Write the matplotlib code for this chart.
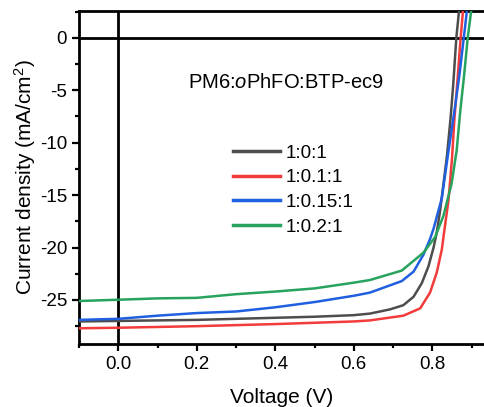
import matplotlib
matplotlib.use("Agg")
import matplotlib.pyplot as plt
from matplotlib.ticker import MultipleLocator, FuncFormatter

plt.rcParams['font.family'] = ['Liberation Sans', 'DejaVu Sans']
plt.rcParams['mathtext.fontset'] = 'custom'
plt.rcParams['mathtext.rm'] = 'Liberation Sans'
plt.rcParams['mathtext.it'] = 'Liberation Sans:italic'

labels = ["1:0:1", "1:0.1:1", "1:0.15:1", "1:0.2:1"]
colors = ["#4d4d4d", "#f23b3b", "#1f5fe0", "#27a35e"]

v_black = [-0.1, 0.0, 0.1, 0.2, 0.3, 0.4, 0.5, 0.6, 0.641, 0.692, 0.726, 0.752, 0.773, 0.790, 0.803, 0.811, 0.820, 0.837, 0.846, 0.853, 0.861, 0.868]
j_black = [-27.05, -27.0, -26.95, -26.9, -26.8, -26.7, -26.6, -26.45, -26.3, -25.9, -25.5, -24.7, -23.4, -21.8, -20.0, -18.6, -16.4, -11.3, -7.8, -4.5, 0.0, 2.6]

v_red = [-0.1, 0.0, 0.2, 0.4, 0.6, 0.641, 0.726, 0.769, 0.794, 0.811, 0.824, 0.830, 0.841, 0.850, 0.856, 0.864, 0.872, 0.878]
j_red = [-27.7, -27.65, -27.5, -27.3, -27.05, -26.95, -26.5, -25.8, -24.3, -22.4, -20.2, -18.5, -15.5, -11.5, -7.8, -4.0, 0.0, 2.6]

v_blue = [-0.1, 0.0, 0.1, 0.2, 0.3, 0.4, 0.5, 0.6, 0.641, 0.7, 0.722, 0.752, 0.777, 0.794, 0.803, 0.824, 0.841, 0.858, 0.869, 0.880, 0.888]
j_blue = [-26.9, -26.8, -26.5, -26.25, -26.1, -25.7, -25.2, -24.6, -24.3, -23.5, -23.2, -22.3, -20.7, -19.2, -18.2, -15.3, -10.8, -6.5, -3.5, 0.0, 2.6]

v_green = [-0.1, 0.0, 0.1, 0.2, 0.3, 0.4, 0.5, 0.6, 0.641, 0.722, 0.777, 0.807, 0.828, 0.849, 0.862, 0.871, 0.881, 0.890, 0.899]
j_green = [-25.1, -24.98, -24.85, -24.8, -24.45, -24.2, -23.9, -23.35, -23.1, -22.2, -20.5, -19.0, -17.0, -13.9, -10.7, -7.0, -3.5, 0.0, 2.6]

series_v = [v_black, v_red, v_blue, v_green]
series_j = [j_black, j_red, j_blue, j_green]

fig = plt.figure(figsize=(4.85, 4.07), dpi=100)
ax = fig.add_axes([79/485, 1-344/407, 1-79/485, (344-11)/407])

ax.axhline(0, color='black', lw=2.0, zorder=1)
ax.axvline(0, color='black', lw=2.0, zorder=1)

for v, j, c, lab in zip(series_v, series_j, colors, labels):
    ax.plot(v, j, color=c, lw=1.8, label=lab, zorder=3)

ax.set_xlim(-0.1, 0.934)
ax.set_ylim(-29.2, 2.55)

ax.spines['right'].set_visible(False)
for s in ['left', 'top', 'bottom']:
    ax.spines[s].set_linewidth(2.0)

ax.xaxis.set_major_locator(MultipleLocator(0.2))
ax.xaxis.set_minor_locator(MultipleLocator(0.1))
ax.yaxis.set_major_locator(MultipleLocator(5))
ax.yaxis.set_minor_locator(MultipleLocator(2.5))
ax.tick_params(which='major', direction='out', length=5, width=1.6, labelsize=13.5)
ax.tick_params(which='minor', direction='out', length=3, width=1.6)
ax.tick_params(axis='y', which='major', pad=3.5)
ax.xaxis.set_major_formatter(FuncFormatter(lambda x, p: f"{x:.1f}"))
ax.yaxis.set_major_formatter(FuncFormatter(lambda y, p: f"{int(round(y))}"))

ax.set_xlabel("Voltage (V)", fontsize=15, labelpad=11)
ax.set_ylabel("Current density (mA/cm$^{2}$)", fontsize=15, labelpad=1)

fig.text(188/485, 1-82/407, "PM6:$\\it{o}$PhFO:BTP-ec9", fontsize=14.5, ha='left', va='center')

leg = ax.legend(loc='center left', bbox_to_anchor=(233/485, 1-190/407), bbox_transform=fig.transFigure,
                frameon=False, fontsize=13.5, handlelength=2.5, handletextpad=0.3,
                labelspacing=0.4, borderpad=0, borderaxespad=0)
for line in leg.get_lines():
    line.set_linewidth(2.5)

fig.savefig("out.png", dpi=100)
